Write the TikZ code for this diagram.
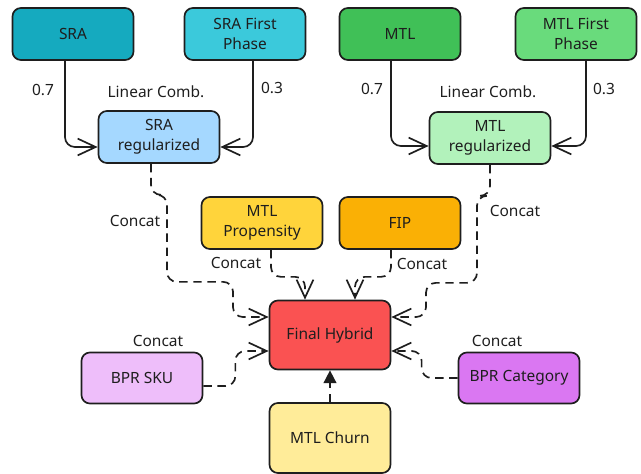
\documentclass[tikz,border=0pt]{standalone}
\usepackage{fontspec}
\setmainfont{Noto Sans}
\usepackage{xcolor}
\usepackage{tikz}
\usetikzlibrary{positioning,calc,arrows.meta}

\definecolor{ink}{HTML}{1E1E1E}
\definecolor{sraCol}{HTML}{15AABF}
\definecolor{sraFPCol}{HTML}{3BC9DB}
\definecolor{mtlCol}{HTML}{40C057}
\definecolor{mtlFPCol}{HTML}{69DB7C}
\definecolor{sraRegCol}{HTML}{A5D8FF}
\definecolor{mtlRegCol}{HTML}{B2F2BB}
\definecolor{propCol}{HTML}{FFD43B}
\definecolor{fipCol}{HTML}{FAB005}
\definecolor{finalCol}{HTML}{FA5252}
\definecolor{skuCol}{HTML}{EEBEFA}
\definecolor{catCol}{HTML}{DA77F2}
\definecolor{churnCol}{HTML}{FFEC99}

\begin{document}
\begin{tikzpicture}[x=0.025cm, y=-0.025cm,
    box/.style={rectangle, rounded corners=6pt, draw=ink, line width=1.2pt, text=ink,
        minimum width=3.025cm, minimum height=1.3cm, align=center,
        font=\fontsize{11}{14}\selectfont},
    lbl/.style={text=ink, font=\fontsize{11}{14}\selectfont},
    link/.style={draw=ink, line width=1.2pt, rounded corners=7pt,
        -{Straight Barb[length=4.5mm, width=4.2mm]}},
    concat/.style={link, dash pattern=on 6pt off 4pt},
    push/.style={draw=ink, line width=1.2pt, dash pattern=on 6pt off 4pt,
        -{Triangle[length=3.2mm, width=3.2mm]}}]
    \useasboundingbox (0,0) rectangle (641,474);

    % Sources
    \foreach \n/\x/\c/\t in {sra/73/sraCol/SRA, sraFP/245/sraFPCol/{SRA First\\Phase},
                             mtl/400/mtlCol/MTL, mtlFP/576/mtlFPCol/{MTL First\\Phase}}
        \node[box, fill=\c] (\n) at (\x,34) {\t};

    % Regularized
    \node[box, fill=sraRegCol] (sraReg) at (159,137) {SRA\\regularized};
    \node[box, fill=mtlRegCol] (mtlReg) at (490,138) {MTL\\regularized};

    % Middle row
    \node[box, fill=propCol] (prop) at (262,223) {MTL\\Propensity};
    \node[box, fill=fipCol] (fip) at (400,223) {FIP};

    % Hybrid and side inputs
    \node[box, fill=finalCol, minimum height=1.725cm] (final) at (330,335) {Final Hybrid};
    \node[box, fill=skuCol, minimum height=1.275cm] (bprSku) at (142,378) {BPR SKU};
    \node[box, fill=catCol, minimum height=1.275cm] (bprCat) at (519,378) {BPR Category};
    \node[box, fill=churnCol, minimum height=1.75cm] (churn) at (330,438) {MTL Churn};

    % Linear combinations
    \draw[link] ($(sra.south)+(-8,0)$) |- ($(sraReg.west)+(0,10)$);
    \draw[link] ($(sraFP.south)+(8,0)$) |- ($(sraReg.east)+(0,10)$);
    \draw[link] ($(mtl.south)+(-9,0)$) |- ($(mtlReg.west)+(0,8)$);
    \draw[link] ($(mtlFP.south)+(10,0)$) |- ($(mtlReg.east)+(0,8)$);

    % Concatenations
    \draw[concat] ($(sraReg.south)+(-8,0)$) -- ++(0,31) -- ++(16,0) -- ++(0,87) -- ++(66,0)
        |- ($(final.west)+(0,-18)$);
    \draw[concat] (mtlReg.south) -- ++(0,31) -- ++(-13,0) -- ++(0,87) -- ++(-51,0)
        |- ($(final.east)+(0,-18)$);
    \draw[concat] ($(prop.south)+(9,0)$) -- ++(0,27) -| ($(final.north)+(-25,0)$);
    \draw[concat] ($(fip.south)+(-9,0)$) -- ++(0,27) -| ($(final.north)+(25,0)$);
    \draw[concat] ($(bprSku.east)+(0,8)$) -- ++(32,0) |- ($(final.west)+(0,16)$);
    \draw[concat] (bprCat.west) -- ++(-36,0) |- ($(final.east)+(0,16)$);
    \draw[push] (churn.north) -- (final.south);

    % Weights
    \foreach \n/\x/\y/\t in {wa/43/90/0.7, wb/272/88/0.3, wc/372/89/0.7, wd/604/89/0.3,
                             la/156/92/Linear Comb., lb/488/92/Linear Comb.}
        \node[lbl] (\n) at (\x,\y) {\t};

    % Concat labels
    \foreach \n/\x/\y in {ca/135/221, cb/515/211, cc/236/263, cd/422/264, ce/158/341, cf/497/341}
        \node[lbl] (\n) at (\x,\y) {Concat};
\end{tikzpicture}
\end{document}
